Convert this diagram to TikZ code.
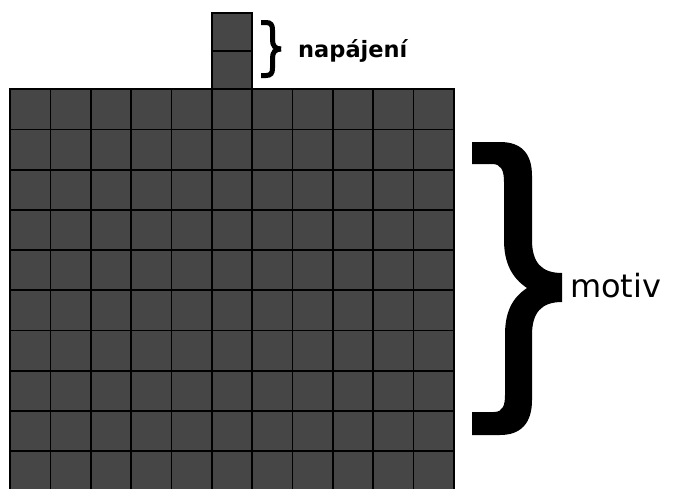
\documentclass[tikz,border=0pt]{standalone}
\usepackage{fontspec}
\setmainfont{DejaVu Sans}
\definecolor{cellgray}{HTML}{464646}
\begin{document}
\begin{tikzpicture}[x=1pt,y=-1pt,
  cell/.style={fill=cellgray,draw=black,line width=1.7pt},
  lbl/.style={anchor=base west,inner sep=0pt,text=black},
  smallbrace/.style={line width=5pt,line cap=butt}]
\useasboundingbox (0,0) rectangle (679,488);
\fill[white] (0,0) rectangle (679,488);
\begin{scope}
\clip (0,0) rectangle (679,488);
\foreach \i in {0,...,10}
  \foreach \j in {0,...,9}
    \draw[cell] ({10+40.36*\i},{89.3+40.2*\j}) rectangle ++(40.36,40.2);
\end{scope}
\draw[cell] (211.8,12.7) rectangle ++(40.36,38.3);
\draw[cell] (211.8,51) rectangle ++(40.36,38.3);
% small brace
\draw[smallbrace] (261,22.5) -- (266,22.5) .. controls (271,22.5) and (272.5,25) .. (272.5,30) -- (272.5,40)
  .. controls (272.5,45.5) and (275,49) .. (281,49);
\draw[smallbrace] (281,49) .. controls (275,49) and (272.5,52.5) .. (272.5,58) -- (272.5,68)
  .. controls (272.5,73) and (271,75.5) .. (266,75.5) -- (261,75.5);
% big brace
\fill (472,142) -- (500,142) .. controls (521,142) and (532,153) .. (532,176) -- (532,240)
  .. controls (532,262) and (541,273) .. (562,273) -- (562,302)
  .. controls (541,302) and (532,313) .. (532,335) -- (532,400)
  .. controls (532,423) and (521,435) .. (500,435) -- (472,435) -- (472,412) -- (494,412)
  .. controls (503,412) and (505,405) .. (505,395) -- (505,335)
  .. controls (505,312) and (512,298) .. (527,288)
  .. controls (512,278) and (504,263) .. (504,240) -- (504,182)
  .. controls (504,170) and (501,164) .. (492,164) -- (472,164) -- cycle;
\node[lbl,font=\bfseries\fontsize{22.5}{27}\selectfont] (nap) at (298,57) {napájení};
\node[lbl,font=\fontsize{32}{38}\selectfont] (mot) at (570,297) {motiv};
\end{tikzpicture}
\end{document}
